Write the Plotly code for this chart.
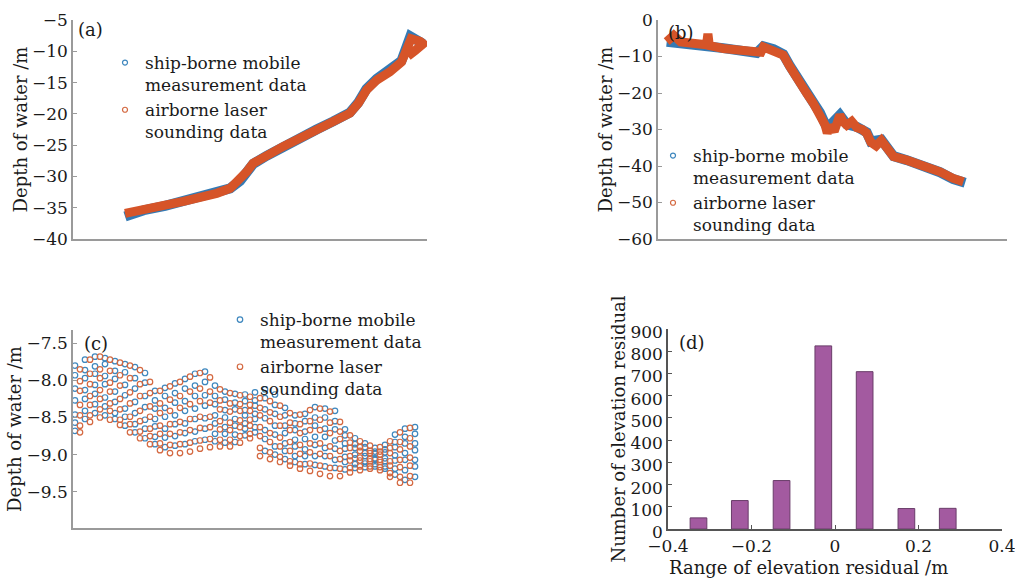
import plotly.graph_objects as go

FONT = "DejaVu Serif"
BLUE = "rgb(52,122,180)"
ORANGE = "rgb(214,84,40)"
BLUE_C = "rgb(62,135,190)"
ORANGE_C = "rgb(212,104,64)"
PURPLE = "rgb(163,90,160)"

NAME_SHIP = "ship-borne mobile<br>measurement data"
NAME_AIR = "airborne laser<br>sounding data"

# ---- panel (a): profile, distance index vs depth
a_air_x = [14.7, 18.0, 21.8, 26.0, 31.2, 36.0, 40.6, 44.4, 47.2, 49.0, 50.9, 54.7, 59.4,
           64.1, 68.8, 73.5, 78.2, 80.6, 82.9, 85.8, 89.5, 92.8, 95.5, 98.0, 98.9, 96.6, 94.6]
a_air_y = [-35.9, -35.6, -35.1, -34.6, -34.0, -33.4, -32.7, -31.9, -30.6, -29.3, -27.9, -26.6, -25.2,
           -23.9, -22.6, -21.3, -19.9, -18.3, -16.2, -14.6, -13.3, -11.7, -8.0, -8.4, -8.8, -9.9, -10.8]
a_ship_x = [14.7, 16.5, 20.0, 26.0, 31.2, 36.0, 40.6, 44.4, 47.2, 49.0, 50.9, 54.7, 59.4,
            64.1, 68.8, 73.5, 78.2, 80.6, 82.9, 85.8, 89.5, 92.8, 95.3, 98.0, 98.9]
a_ship_y = [-36.4, -36.0, -35.4, -34.7, -34.0, -33.4, -32.7, -31.9, -30.7, -29.4, -28.0, -26.7, -25.2,
            -23.8, -22.5, -21.2, -19.8, -18.2, -16.0, -14.4, -13.1, -11.5, -7.6, -8.3, -8.8]

# ---- panel (b)
b_air_x = [2.5, 4.5, 6.5, 9.2, 13.9, 14.3, 14.7, 18.7, 23.5, 28.3, 29.5, 30.2, 31.5, 33.1, 35.9,
           37.8, 39.7, 42.6, 44.5, 46.4, 47.9, 48.5, 49.3, 50.5, 51.2, 52.1, 53.0, 54.1, 55.5,
           57.0, 58.5, 59.8, 61.0, 62.5, 64.0, 65.0, 67.5, 71.3, 76.1, 80.8, 84.6, 87.5]
b_air_y = [-5.9, -4.2, -6.0, -6.4, -6.8, -3.8, -7.0, -7.8, -8.4, -9.1, -8.8, -7.4, -7.9, -8.1, -9.6,
           -12.8, -16.0, -20.1, -22.8, -25.6, -28.8, -31.0, -29.0, -30.5, -27.4, -26.0, -27.8, -28.8, -27.8,
           -29.5, -30.0, -31.0, -33.5, -34.5, -33.0, -34.5, -37.4, -38.4, -39.9, -41.6, -43.4, -44.3]
b_ship_x = [2.5, 9.2, 18.7, 28.3, 30.2, 33.1, 35.9, 37.8, 39.7, 42.6, 44.5, 46.4, 47.9, 49.3,
            51.2, 52.1, 54.1, 57.0, 59.8, 61.0, 64.0, 65.0, 67.5, 71.3, 76.1, 80.8, 84.6, 87.5, 88.0]
b_ship_y = [-6.0, -6.5, -7.7, -9.0, -7.2, -8.0, -9.4, -12.6, -15.8, -20.0, -22.6, -25.4, -28.5, -28.8,
            -27.2, -26.0, -28.6, -29.3, -30.8, -33.3, -32.8, -34.4, -37.3, -38.4, -39.9, -41.7, -43.6, -44.5, -44.6]

# ---- panel (c): zoomed section, columns of points
c_ship_x = [2, 12, 22, 32, 42, 52, 62, 72, 82, 92, 102, 112, 122, 132, 142, 152, 162, 172,
            182, 192, 202, 212, 222, 232, 242, 252, 262, 272, 282, 292, 302, 312, 322, 332, 342]
c_ship_y = [
    [-7.80, -7.93, -8.11, -8.27, -8.46, -8.57, -8.68],
    [-7.72, -7.86, -7.97, -8.13, -8.25, -8.41, -8.52],
    [-7.68, -7.81, -7.91, -8.06, -8.18, -8.32, -8.44],
    [-7.70, -7.78, -7.94, -8.05, -8.23, -8.35, -8.47],
    [-7.74, -7.87, -7.98, -8.15, -8.29, -8.44, -8.52],
    [-7.78, -7.89, -8.06, -8.20, -8.38, -8.49, -8.61],
    [-7.82, -7.97, -8.11, -8.29, -8.44, -8.59, -8.70],
    [-7.90, -8.03, -8.21, -8.36, -8.53, -8.65, -8.78],
    [-8.14, -8.27, -8.38, -8.52, -8.62, -8.76, -8.86],
    [-8.10, -8.21, -8.37, -8.49, -8.65, -8.77, -8.90],
    [-8.04, -8.17, -8.30, -8.47, -8.59, -8.75, -8.88],
    [-7.98, -8.11, -8.28, -8.41, -8.58, -8.71, -8.86],
    [-7.91, -8.07, -8.21, -8.38, -8.52, -8.69, -8.82],
    [-7.88, -8.02, -8.20, -8.34, -8.51, -8.65, -8.80],
    [-8.07, -8.21, -8.32, -8.47, -8.58, -8.72, -8.82],
    [-8.15, -8.26, -8.40, -8.50, -8.63, -8.72, -8.84],
    [-8.18, -8.30, -8.39, -8.52, -8.61, -8.73, -8.83],
    [-8.19, -8.28, -8.40, -8.47, -8.58, -8.65, -8.74],
    [-8.16, -8.27, -8.34, -8.45, -8.52, -8.63, -8.70],
    [-8.12, -8.24, -8.39, -8.51, -8.67, -8.79, -8.95],
    [-8.19, -8.33, -8.45, -8.61, -8.73, -8.89, -9.00],
    [-8.37, -8.47, -8.61, -8.71, -8.85, -8.95, -9.06],
    [-8.47, -8.58, -8.67, -8.80, -8.89, -9.02, -9.10],
    [-8.45, -8.55, -8.69, -8.79, -8.93, -9.02, -9.13],
    [-8.36, -8.50, -8.61, -8.76, -8.87, -9.02, -9.14],
    [-8.38, -8.50, -8.65, -8.76, -8.91, -9.02, -9.16],
    [-8.41, -8.55, -8.66, -8.81, -8.92, -9.07, -9.18],
    [-8.66, -8.74, -8.85, -8.92, -9.03, -9.10, -9.20],
    [-8.78, -8.86, -8.91, -9.00, -9.05, -9.13, -9.18],
    [-8.85, -8.90, -8.98, -9.02, -9.09, -9.12, -9.17],
    [-8.91, -8.96, -8.99, -9.05, -9.07, -9.13, -9.16],
    [-8.87, -8.93, -8.97, -9.05, -9.09, -9.16, -9.19],
    [-8.73, -8.83, -8.90, -9.01, -9.08, -9.19, -9.27],
    [-8.65, -8.76, -8.85, -8.98, -9.07, -9.21, -9.34],
    [-8.63, -8.72, -8.85, -8.94, -9.07, -9.16, -9.30],
]
c_air_x = [7, 17, 27, 37, 47, 57, 67, 77, 87, 97, 107, 117, 127, 137, 147, 157, 167, 177,
           187, 197, 207, 217, 227, 237, 247, 257, 267, 277, 287, 297, 307, 317, 327, 337]
c_air_y = [
    [-7.85, -8.01, -8.14, -8.33, -8.47, -8.61, -8.70],
    [-7.72, -7.91, -8.05, -8.21, -8.33, -8.47, -8.56],
    [-7.68, -7.85, -7.97, -8.13, -8.25, -8.39, -8.50],
    [-7.72, -7.87, -8.03, -8.15, -8.31, -8.41, -8.53],
    [-7.76, -7.93, -8.07, -8.25, -8.39, -8.53, -8.60],
    [-7.80, -7.97, -8.16, -8.31, -8.49, -8.59, -8.70],
    [-7.86, -8.05, -8.21, -8.41, -8.55, -8.69, -8.78],
    [-8.02, -8.17, -8.35, -8.49, -8.65, -8.75, -8.86],
    [-8.14, -8.31, -8.44, -8.61, -8.72, -8.85, -8.94],
    [-8.08, -8.26, -8.41, -8.59, -8.72, -8.87, -8.98],
    [-8.02, -8.21, -8.37, -8.56, -8.70, -8.86, -8.98],
    [-7.95, -8.15, -8.32, -8.52, -8.67, -8.84, -8.96],
    [-7.90, -8.11, -8.28, -8.49, -8.64, -8.81, -8.92],
    [-7.96, -8.15, -8.30, -8.49, -8.63, -8.79, -8.90],
    [-8.12, -8.27, -8.39, -8.55, -8.66, -8.80, -8.89],
    [-8.17, -8.31, -8.42, -8.57, -8.67, -8.80, -8.89],
    [-8.20, -8.32, -8.41, -8.54, -8.63, -8.75, -8.84],
    [-8.22, -8.33, -8.41, -8.53, -8.61, -8.72, -8.78],
    [-8.24, -8.37, -8.47, -8.63, -8.75, -8.91, -9.02],
    [-8.28, -8.43, -8.55, -8.71, -8.83, -8.97, -9.06],
    [-8.34, -8.49, -8.61, -8.77, -8.89, -9.03, -9.10],
    [-8.44, -8.57, -8.67, -8.83, -8.95, -9.09, -9.15],
    [-8.46, -8.59, -8.71, -8.87, -8.99, -9.13, -9.19],
    [-8.40, -8.55, -8.67, -8.85, -8.97, -9.12, -9.22],
    [-8.38, -8.53, -8.67, -8.85, -8.99, -9.15, -9.26],
    [-8.42, -8.57, -8.71, -8.89, -9.02, -9.18, -9.29],
    [-8.56, -8.69, -8.79, -8.95, -9.06, -9.19, -9.29],
    [-8.74, -8.84, -8.91, -9.02, -9.08, -9.18, -9.24],
    [-8.82, -8.90, -8.95, -9.04, -9.08, -9.16, -9.21],
    [-8.88, -8.95, -8.98, -9.06, -9.09, -9.16, -9.19],
    [-8.90, -8.96, -9.00, -9.07, -9.10, -9.17, -9.21],
    [-8.82, -8.91, -8.98, -9.09, -9.15, -9.25, -9.30],
    [-8.70, -8.83, -8.93, -9.07, -9.17, -9.30, -9.38],
    [-8.64, -8.78, -8.89, -9.04, -9.15, -9.29, -9.38],
]

# ---- panel (d): histogram of residuals
d_bin_centers = [-0.327, -0.228, -0.128, -0.028, 0.071, 0.171, 0.270]
d_counts = [50, 128, 218, 824, 708, 92, 93]
d_xticks = [-0.4, -0.2, 0, 0.2, 0.4]

W, H = 1015, 579


def px_dom(a, b, total):
    return [a / total, b / total]


def py_dom(top, bottom):
    return [1 - bottom / H, 1 - top / H]


fig = go.Figure()

# (a)
fig.add_trace(go.Scatter(x=a_ship_x, y=a_ship_y, mode="lines", line=dict(color=BLUE, width=10),
                         showlegend=False, xaxis="x", yaxis="y"))
fig.add_trace(go.Scatter(x=a_air_x, y=a_air_y, mode="lines", line=dict(color=ORANGE, width=9),
                         showlegend=False, xaxis="x", yaxis="y"))
for nm, col in [(NAME_SHIP, BLUE_C), (NAME_AIR, ORANGE_C)]:
    fig.add_trace(go.Scatter(x=[None], y=[None], mode="markers", name=nm,
                             marker=dict(symbol="circle-open", size=5, color=col, line=dict(width=1.2)),
                             xaxis="x", yaxis="y", legend="legend"))

# (b)
fig.add_trace(go.Scatter(x=b_ship_x, y=b_ship_y, mode="lines", line=dict(color=BLUE, width=10),
                         showlegend=False, xaxis="x2", yaxis="y2"))
fig.add_trace(go.Scatter(x=b_air_x, y=b_air_y, mode="lines", line=dict(color=ORANGE, width=9),
                         showlegend=False, xaxis="x2", yaxis="y2"))
for nm, col in [(NAME_SHIP, BLUE_C), (NAME_AIR, ORANGE_C)]:
    fig.add_trace(go.Scatter(x=[None], y=[None], mode="markers", name=nm,
                             marker=dict(symbol="circle-open", size=5, color=col, line=dict(width=1.2)),
                             xaxis="x2", yaxis="y2", legend="legend2"))

# (c)
def flatten(xs, cols):
    fx, fy = [], []
    for x, ys in zip(xs, cols):
        for y in ys:
            fx.append(x)
            fy.append(y)
    return fx, fy


csx, csy = flatten(c_ship_x, c_ship_y)
cax, cay = flatten(c_air_x, c_air_y)
fig.add_trace(go.Scatter(x=csx, y=csy, mode="markers", name=NAME_SHIP,
                         marker=dict(symbol="circle-open", size=5.5, color=BLUE_C, line=dict(width=1.2)),
                         xaxis="x3", yaxis="y3", legend="legend3"))
fig.add_trace(go.Scatter(x=cax, y=cay, mode="markers", name=NAME_AIR,
                         marker=dict(symbol="circle-open", size=5.5, color=ORANGE_C, line=dict(width=1.2)),
                         xaxis="x3", yaxis="y3", legend="legend3"))

# (d)
fig.add_trace(go.Bar(x=d_bin_centers, y=d_counts, width=0.04, showlegend=False,
                     marker=dict(color=PURPLE, line=dict(color="rgb(105,60,105)", width=1)),
                     xaxis="x4", yaxis="y4"))

tickfont = dict(family=FONT, size=17, color="#1a1a1a")
titlefont = dict(family=FONT, size=18, color="#1a1a1a")
LC = "#9a9a9a"

def yax(dom, rng, title, dtick=None, fmt=None, anchor="x", lc=LC, standoff=0):
    d = dict(domain=dom, range=rng, anchor=anchor, showline=True, linecolor=lc, linewidth=1.5,
             ticks="inside", ticklen=4, tickcolor=lc, showgrid=False, zeroline=False, automargin=False,
             ticklabeloverflow="allow",
             tickfont=tickfont, title=dict(text=title, font=titlefont, standoff=standoff))
    if dtick is not None:
        d["dtick"] = dtick
        d["tick0"] = 0
    if fmt:
        d["tickformat"] = fmt
    return d

def xax_plain(dom, rng, anchor):
    return dict(domain=dom, range=rng, anchor=anchor, showline=True, linecolor=LC, linewidth=1.5,
                ticks="", showticklabels=False, showgrid=False, zeroline=False, automargin=False)

legend_common = dict(font=dict(family=FONT, size=17, color="#1a1a1a"), bgcolor="rgba(0,0,0,0)",
                     valign="top", xanchor="left", yanchor="top", tracegroupgap=0, itemwidth=30)

y4 = yax(py_dom(329, 529), [0, 900], "Number of elevation residual", dtick=100, anchor="x4", lc="#555")
y4["ticklabelshift"] = 3

fig.update_layout(
    width=W, height=H, margin=dict(l=0, r=0, t=0, b=0, autoexpand=False),
    paper_bgcolor="white", plot_bgcolor="white",
    xaxis=xax_plain(px_dom(73, 427, W), [0, 100], "y"),
    yaxis=yax(py_dom(20, 239), [-40, -5], "Depth of water /m", dtick=5, anchor="x"),
    xaxis2=xax_plain(px_dom(658, 1007, W), [0, 100], "y2"),
    yaxis2=yax(py_dom(20, 239), [-60, 0], "Depth of water /m", dtick=10, anchor="x2"),
    xaxis3=xax_plain(px_dom(73, 422, W), [0, 349], "y3"),
    yaxis3=yax(py_dom(330, 528), [-9.99, -7.32], "Depth of water /m", dtick=0.5, fmt=".1f", anchor="x3"),
    xaxis4=dict(domain=px_dom(668, 1002, W), range=[-0.4, 0.4], anchor="y4", showline=True,
                linecolor="#555", linewidth=1.5, ticks="inside", ticklen=4, tickcolor="#555",
                tickvals=d_xticks, showgrid=False, zeroline=False, tickfont=tickfont, automargin=False,
                ticklabeloverflow="allow", ticklabelstandoff=1),
    yaxis4=y4,
    legend=dict(x=105 / W, y=1 - 45 / H, **legend_common),
    legend2=dict(x=653 / W, y=1 - 138 / H, **legend_common),
    legend3=dict(x=220 / W, y=1 - 302 / H, **legend_common),
    annotations=[
        dict(text="(a)", x=76 / W, y=1 - 30 / H, xref="paper", yref="paper", xanchor="left",
             yanchor="middle", showarrow=False, font=titlefont),
        dict(text="(b)", x=666 / W, y=1 - 33 / H, xref="paper", yref="paper", xanchor="left",
             yanchor="middle", showarrow=False, font=titlefont),
        dict(text="(c)", x=82 / W, y=1 - 343 / H, xref="paper", yref="paper", xanchor="left",
             yanchor="middle", showarrow=False, font=titlefont),
        dict(text="(d)", x=677 / W, y=1 - 342 / H, xref="paper", yref="paper", xanchor="left",
             yanchor="middle", showarrow=False, font=titlefont),
        dict(text="Range of elevation residual /m", x=808 / W, y=1 - 567 / H, xref="paper", yref="paper",
             xanchor="center", yanchor="middle", showarrow=False, font=titlefont),
    ],
)

fig.write_html("out.html", config={"displayModeBar": False},
               post_script="document.body.style.margin='0';document.body.style.overflow='hidden';")
